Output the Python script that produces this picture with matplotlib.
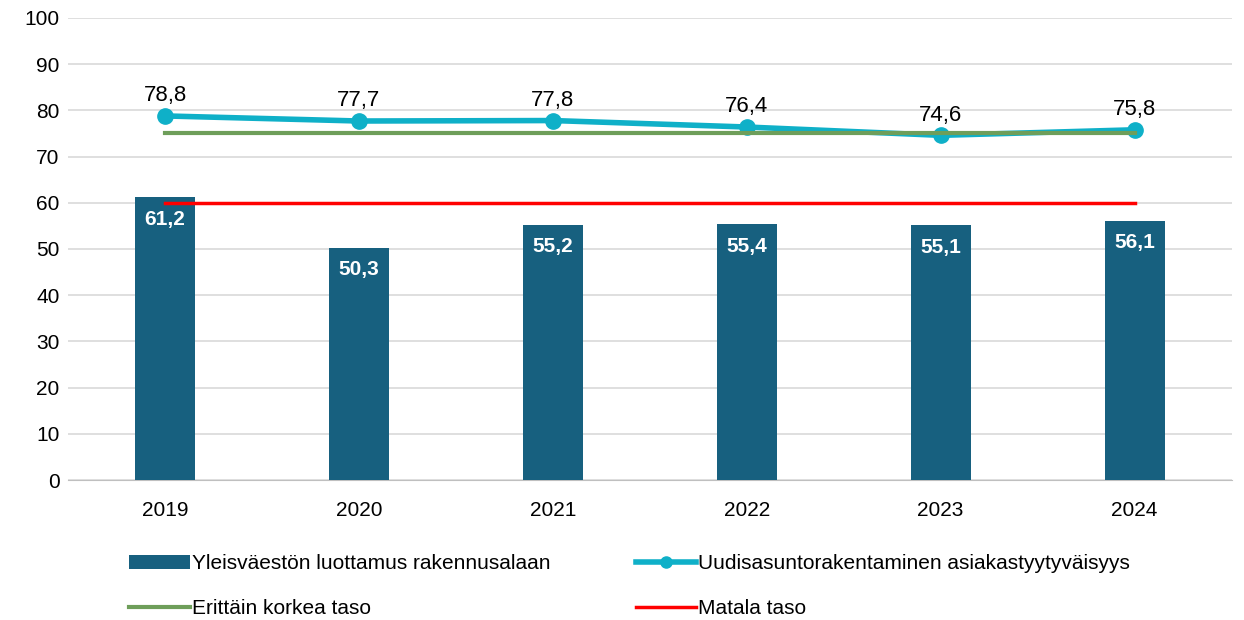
import numpy as np
import matplotlib.pyplot as plt

plt.rcParams['font.family'] = ['Liberation Sans', 'DejaVu Sans']

years = ['2019', '2020', '2021', '2022', '2023', '2024']
luottamus = [61.2, 50.3, 55.2, 55.4, 55.1, 56.1]
tyytyvaisyys = [78.8, 77.7, 77.8, 76.4, 74.6, 75.8]
korkea = [75, 75, 75, 75, 75, 75]
matala = [60, 60, 60, 60, 60, 60]

fig = plt.figure(figsize=(12.44, 6.2), dpi=100)
ax = fig.add_axes([0.0547, 0.2258, 0.9353, 0.7452])

x = np.arange(len(years))
bar = ax.bar(x, luottamus, width=0.31, color='#17607f', zorder=2,
             label='Yleisväestön luottamus rakennusalaan')
cyan, = ax.plot(x, tyytyvaisyys, color='#0fb0c8', lw=4, marker='o', ms=11, zorder=3,
                label='Uudisasuntorakentaminen asiakastyytyväisyys')
green, = ax.plot(x, korkea, color='#6e9e5a', lw=3, zorder=4, label='Erittäin korkea taso')
red, = ax.plot(x, matala, color='#ff0000', lw=2.5, zorder=4, label='Matala taso')

for xi, v in zip(x, luottamus):
    ax.annotate(f'{v:.1f}'.replace('.', ','), (xi, v), xytext=(0, -9),
                textcoords='offset points', ha='center', va='top',
                color='white', fontsize=15, fontweight='bold', zorder=5)
for xi, v in zip(x, tyytyvaisyys):
    ax.annotate(f'{v:.1f}'.replace('.', ','), (xi, v), xytext=(0, 7),
                textcoords='offset points', ha='center', va='bottom',
                color='black', fontsize=16, zorder=5)

ax.set_xlim(-0.5, 5.5)
ax.set_ylim(0, 100)
ax.set_yticks(range(0, 101, 10))
ax.set_xticks(x)
ax.set_xticklabels(years)
ax.tick_params(axis='both', length=0, labelsize=15)
ax.tick_params(axis='x', pad=15)
ax.tick_params(axis='y', pad=6)
ax.grid(axis='y', color='#d9d9d9', lw=1.2, zorder=0)
for s in ['top', 'right', 'left']:
    ax.spines[s].set_visible(False)
ax.spines['bottom'].set_color('#bfbfbf')
ax.spines['bottom'].set_zorder(1)

# legend, kaksi saraketta
cyan_h = plt.Line2D([], [], color='#0fb0c8', lw=4, marker='o', ms=8)
handles = [bar, green, cyan_h, red]
labels = ['Yleisväestön luottamus rakennusalaan', 'Erittäin korkea taso',
          'Uudisasuntorakentaminen asiakastyytyväisyys', 'Matala taso']
fig.legend(handles, labels, ncol=2, loc='upper left', bbox_to_anchor=(0.089, 0.136),
           frameon=False, prop={'size': 15}, handlelength=2.9,
           handletextpad=0.1, columnspacing=4.1, labelspacing=1.25)

fig.savefig('out.png', dpi=100)
